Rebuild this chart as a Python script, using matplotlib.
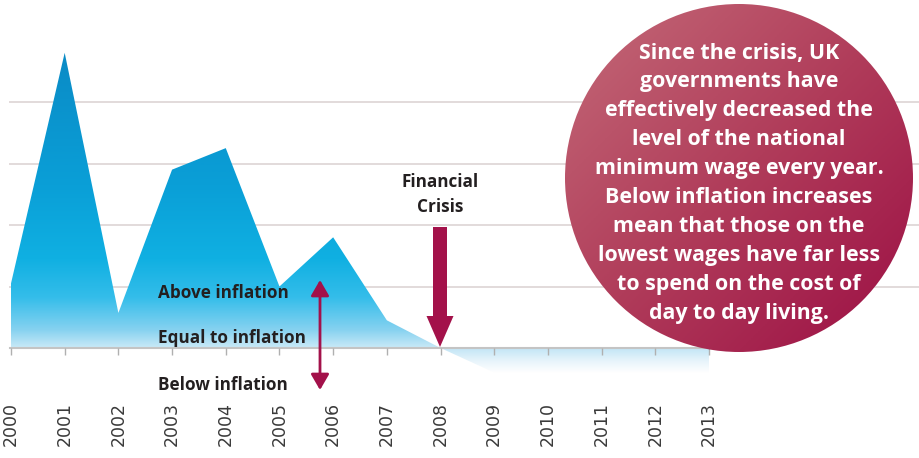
# Minimum wage increase relative to inflation, 2000-2013
import numpy as np
import matplotlib
matplotlib.use("Agg")
import matplotlib.pyplot as plt
from matplotlib.colors import LinearSegmentedColormap
from matplotlib.patches import Polygon, Circle, FancyArrow

# data (gridline units above/below inflation)
years = list(range(2000, 2014))
gap = [1.05, 4.8, 0.57, 2.9, 3.25, 1.0, 1.8, 0.45, 0.0, -0.4, -0.4, -0.4, -0.4, -0.4]
gridlines = [1, 2, 3, 4]
year_labels = [str(y) for y in years]

bubble_lines = [
    "Since the crisis, UK",
    "governments have",
    "effectively decreased the",
    "level of the national",
    "minimum wage every year.",
    "Below inflation increases",
    "mean that those on the",
    "lowest wages have far less",
    "to spend on the cost of",
    "day to day living.",
]

W, H = 919, 458
PX_YEAR = 698 / 13.0   # pixels per year
PX_UNIT = 61.5         # pixels per gridline step
X0, Y0 = 11, 348       # pixel position of 2000 / zero line

crimson = "#a3114a"
font = "Open Sans"


def main():
    fig = plt.figure(figsize=(W / 100, H / 100), dpi=100)
    ax = fig.add_axes([0, 0, 1, 1])
    ax.axis("off")

    x = np.array(years, dtype=float)
    y = np.array(gap)
    pos = np.clip(y, 0, None)
    neg = np.clip(y, None, 0)

    # gridlines
    for g in gridlines:
        ax.axhline(g, xmin=10 / W, xmax=1, color="#e2dada", lw=1.4, zorder=1)

    # area above inflation with vertical gradient
    cm_up = LinearSegmentedColormap.from_list("up", [
        (0.0, "#c8e9f7"), (0.06, "#86d2f0"), (0.17, "#34bdea"),
        (0.3, "#10b0e2"), (0.55, "#0a9fd7"), (1.0, "#0a8bc6")])
    top = pos.max()
    grad = np.linspace(0, 1, 256).reshape(-1, 1)
    im = ax.imshow(grad, cmap=cm_up, origin="lower", aspect="auto",
                   extent=[x[0], x[-1], 0, top], zorder=2)
    verts = np.column_stack([np.r_[x[0], x, x[-1]], np.r_[0, pos, 0]])
    patch = Polygon(verts, closed=True, facecolor="none", edgecolor="none")
    ax.add_patch(patch)
    im.set_clip_path(patch)

    # area below inflation, fading out
    cm_dn = LinearSegmentedColormap.from_list("dn", [
        (0.0, "#ffffff"), (0.5, "#e6f4fb"), (1.0, "#c2e5f6")])
    bot = neg.min()
    im2 = ax.imshow(grad, cmap=cm_dn, origin="lower", aspect="auto",
                    extent=[x[0], x[-1], bot, 0], zorder=2)
    verts2 = np.column_stack([np.r_[x[0], x, x[-1]], np.r_[0, neg, 0]])
    patch2 = Polygon(verts2, closed=True, facecolor="none", edgecolor="none")
    ax.add_patch(patch2)
    im2.set_clip_path(patch2)

    # zero axis with ticks
    ax.plot([x[0] - 0.02, x[-1]], [0, 0], color="#c4c4c4", lw=1.5, zorder=3)
    ax.vlines(x, -7 / PX_UNIT, 0, color="#b0b0b0", lw=1, zorder=3)

    # year labels
    for xv, lab in zip(x, year_labels):
        ax.text(xv, -76 / PX_UNIT, lab, rotation=90, ha="center", va="center",
                fontsize=12.5, color="#3a3a3a", family="DejaVu Sans")

    ax.set_xlim(2000 - X0 / PX_YEAR, 2000 + (W - X0) / PX_YEAR)
    ax.set_ylim(-(H - Y0) / PX_UNIT, Y0 / PX_UNIT)

    # overlay in pixel coordinates for annotations
    ov = fig.add_axes([0, 0, 1, 1], zorder=5)
    ov.set_xlim(0, W)
    ov.set_ylim(H, 0)
    ov.axis("off")
    ov.patch.set_alpha(0)

    for txt, ty in [("Above inflation", 293), ("Equal to inflation", 338),
                    ("Below inflation", 385)]:
        ov.text(158, ty, txt, ha="left", va="center", fontsize=12.3,
                fontweight="bold", color="#231f20", family=font)
    ov.text(440, 182, "Financial", ha="center", va="center", fontsize=12.3,
            fontweight="bold", color="#231f20", family=font)
    ov.text(440, 207, "Crisis", ha="center", va="center", fontsize=12.3,
            fontweight="bold", color="#231f20", family=font)

    ov.add_patch(FancyArrow(440, 227, 0, 120, width=14, head_width=27,
                            head_length=31, length_includes_head=True,
                            color=crimson, lw=0))
    ov.annotate("", xy=(320, 280), xytext=(320, 390),
                arrowprops=dict(arrowstyle="<|-|>,head_length=0.95,head_width=0.55",
                                lw=2, color=crimson, shrinkA=0, shrinkB=0,
                                mutation_scale=10))

    # speech bubble circle with diagonal gradient
    cx, cy, r = 739, 178, 174
    cax = fig.add_axes([(cx - r) / W, 1 - (cy + r) / H, 2 * r / W, 2 * r / H], zorder=6)
    cax.set_xlim(0, 1)
    cax.set_ylim(0, 1)
    cax.axis("off")
    cax.patch.set_alpha(0)
    cm_c = LinearSegmentedColormap.from_list("c", ["#c46a78", "#b03c5a", "#9c0e44"])
    gx, gy = np.meshgrid(np.linspace(0, 1, 200), np.linspace(0, 1, 200))
    diag = (gx + (1 - gy)) / 2
    cim = cax.imshow(diag, cmap=cm_c, origin="lower", extent=[0, 1, 0, 1], aspect="auto")
    circ = Circle((0.5, 0.5), 0.5, transform=cax.transData, facecolor="none", edgecolor="none")
    cax.add_patch(circ)
    cim.set_clip_path(circ)

    first, step = 53, 28.9
    for i, line in enumerate(bubble_lines):
        ov_y = first + i * step
        fig.text(cx / W, 1 - ov_y / H, line, ha="center", va="center",
                 fontsize=15.4, fontweight="bold", color="white", family=font,
                 zorder=7)

    fig.savefig("out.png", dpi=100)


if __name__ == "__main__":
    main()
